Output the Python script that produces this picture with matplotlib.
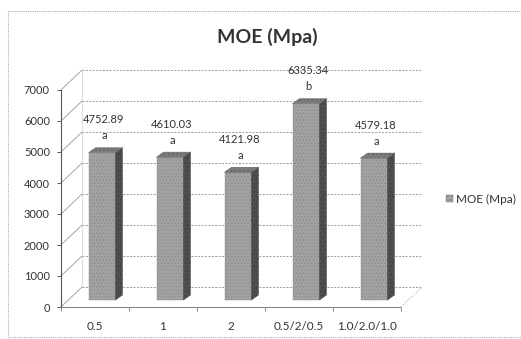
import numpy as np
import matplotlib
matplotlib.use("Agg")
import matplotlib.pyplot as plt
from matplotlib.patches import Rectangle, Polygon
from matplotlib import transforms

plt.rcParams['font.family'] = ['Lato', 'DejaVu Sans']
plt.rcParams['hatch.linewidth'] = 0.6

# data
categories = ['0.5', '1', '2', '0.5/2/0.5', '1.0/2.0/1.0']
moe = [4752.89, 4610.03, 4121.98, 6335.34, 4579.18]
groups = ['a', 'a', 'a', 'b', 'a']
yticks = [0, 1000, 2000, 3000, 4000, 5000, 6000, 7000]

W, H = 521, 339
fig = plt.figure(figsize=(W / 100, H / 100), dpi=100)
fig.patch.set_facecolor('white')

# front plane of the plot box, in pixels
x0, x1 = 61, 401
ytop, ybot = 90, 307
ax = fig.add_axes([x0 / W, 1 - ybot / H, (x1 - x0) / W, (ybot - ytop) / H])
ax.set_xlim(-0.5, len(categories) - 0.5)
ax.set_ylim(0, 7000)
ax.set_facecolor('none')

# pixel -> data unit helpers
px_x = (len(categories)) / (x1 - x0)
px_y = 7000 / (ybot - ytop)

# depth of the back wall and of the bar position
wall_dx, wall_dy = 21 * px_x, 20 * px_y
mid_dx, mid_dy = 7 * px_x, 7 * px_y
bar_dx, bar_dy = 7 * px_x, 5 * px_y
bar_w = 27 * px_x

grid_c = '#9a9a9a'
left, right = -0.5, len(categories) - 0.5

# back wall gridlines and left wall diagonals
for v in yticks:
    ax.plot([left + wall_dx, right + wall_dx], [v + wall_dy, v + wall_dy],
            color=grid_c, lw=0.7, ls=(0, (2, 1.5)), clip_on=False, zorder=1)
    ax.plot([left, left + wall_dx], [v, v + wall_dy],
            color='#999999', lw=0.6, clip_on=False, zorder=1)
# floor right edge
ax.plot([right, right + wall_dx], [0, wall_dy], color='#b5b5b5', lw=0.6,
        ls=(0, (2, 1.5)), clip_on=False, zorder=1)
# back wall left edge
ax.plot([left + wall_dx, left + wall_dx], [wall_dy, 7000 + wall_dy],
        color='#cccccc', lw=0.5, clip_on=False, zorder=1)

# bars
front_c, side_c, top_c = '#a2a2a2', '#4e4e4e', '#7c7c7c'
for i, v in enumerate(moe):
    bx = i - bar_w / 2 + mid_dx
    by = mid_dy
    front = Rectangle((bx, by), bar_w, v, facecolor=front_c, edgecolor='#8c8c8c',
                      hatch='.....', lw=0.3, zorder=3, clip_on=False)
    ax.add_patch(front)
    side = Polygon([(bx + bar_w, by), (bx + bar_w + bar_dx, by + bar_dy),
                    (bx + bar_w + bar_dx, by + v + bar_dy), (bx + bar_w, by + v)],
                   closed=True, facecolor=side_c, edgecolor='#404040', lw=0.3,
                   hatch='....', zorder=3, clip_on=False)
    ax.add_patch(side)
    top = Polygon([(bx, by + v), (bx + bar_w, by + v),
                   (bx + bar_w + bar_dx, by + v + bar_dy), (bx + bar_dx, by + v + bar_dy)],
                  closed=True, facecolor=top_c, edgecolor='#606060', lw=0.3,
                  hatch='....', zorder=3, clip_on=False)
    ax.add_patch(top)

    t1 = transforms.offset_copy(ax.transData, fig=fig, x=9, y=7 + 33, units='dots')
    t2 = transforms.offset_copy(ax.transData, fig=fig, x=9, y=7 + 17, units='dots')
    ax.text(i, v, '%.2f' % v, transform=t1, ha='center', va='center',
            fontsize=8, color='#333333', zorder=5, clip_on=False)
    ax.text(i, v, groups[i], transform=t2, ha='center', va='center',
            fontsize=8, color='#333333', zorder=5, clip_on=False)

# axes styling
for s in ['top', 'right']:
    ax.spines[s].set_visible(False)
ax.spines['left'].set_color('#555555')
ax.spines['left'].set_linewidth(0.8)
ax.spines['bottom'].set_color('#888888')
ax.spines['bottom'].set_linewidth(0.8)
ax.spines['bottom'].set_linestyle((0, (2, 1)))
ax.set_yticks(yticks)
ax.set_yticklabels([str(v) for v in yticks])
ax.tick_params(axis='y', length=3, width=0.7, color='#555555', labelsize=8,
               labelcolor='#333333', pad=5)
ax.set_xticks(range(len(categories)))
ax.set_xticklabels(categories)
ax.set_xticks(np.arange(len(categories) + 1) - 0.5, minor=True)
ax.tick_params(axis='x', which='major', length=0, labelsize=8.5,
               labelcolor='#333333', pad=10)
ax.tick_params(axis='x', which='minor', length=3, width=0.6, color='#777777')

# title
fig.text(267 / W, 1 - 37 / H, 'MOE (Mpa)', ha='center', va='center',
         fontsize=14, fontweight='bold', color='#333333')

# legend
leg_handle = Rectangle((0, 0), 1, 1, facecolor=front_c, edgecolor='#777777',
                       hatch='....', lw=0.3)
ax.legend(handles=[leg_handle], labels=['MOE (Mpa)'], loc='center left',
          bbox_to_anchor=(441 / W, 1 - 199 / H), bbox_transform=fig.transFigure,
          frameon=False, handlelength=0.6, handleheight=0.6, handletextpad=0.3,
          fontsize=8.5, labelcolor='#333333', borderaxespad=0)

# outer dotted border
fig.patches.append(Rectangle((8 / W, 2 / H), 1.0, 1 - 13 / H, transform=fig.transFigure,
                             fill=False, edgecolor='#aaaaaa', lw=0.8, ls=(0, (1, 1))))

fig.savefig('out.png', dpi=100)
